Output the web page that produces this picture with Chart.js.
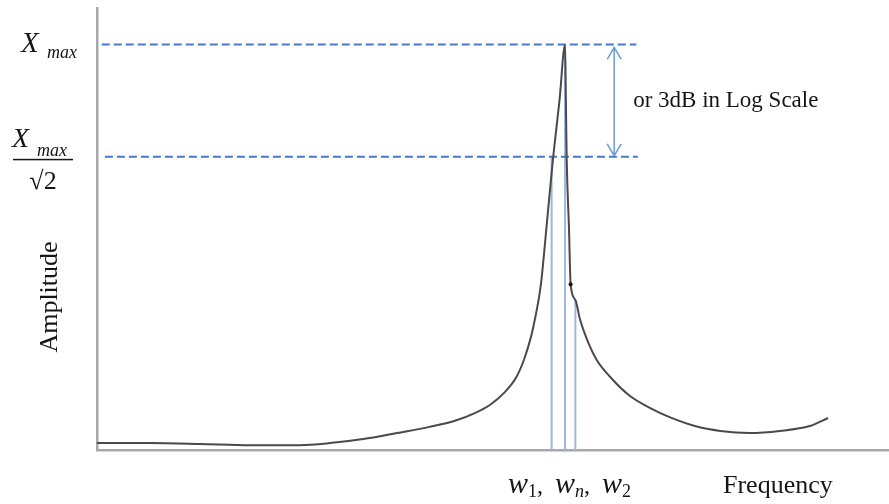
<!DOCTYPE html>
<html>
<head>
<meta charset="utf-8">
<script src="https://cdn.jsdelivr.net/npm/chart.js@4/dist/chart.umd.min.js"></script>
<style>
    html, body { margin: 0; padding: 0; background: #fff; }
    #wrap { width: 889px; height: 504px; }
</style>
</head>
<body>
<div id="wrap"><canvas id="respChart"></canvas></div>
<script>
// Frequency response (arbitrary units)
const frequency = [0, 6.7, 13.0, 19.3, 25.6, 29.4, 33.6, 37.9, 42.0, 45.2, 47.7, 49.6, 51.4, 52.9, 53.9, 54.8, 55.4, 55.8, 56.1, 56.9, 57.6, 58.4, 59.1, 59.2, 59.3, 59.6, 59.8, 60.4, 61.0, 61.9, 63.1, 64.8, 67.3, 69.8, 72.3, 75.5, 78.7, 82.4, 86.2, 90.0, 92.3];
const amplitude = [1.7, 1.7, 1.5, 1.2, 1.2, 1.7, 2.7, 4.2, 5.7, 7.2, 9.1, 11.1, 14.1, 17.8, 22.2, 27.9, 33.3, 37.5, 41.7, 58.0, 72.3, 86.3, 99.9, 86.3, 72.3, 54.3, 40.9, 37.0, 32.1, 27.1, 22.2, 18.0, 13.3, 10.4, 8.1, 5.9, 4.7, 4.2, 4.7, 5.9, 7.9];

const xMax = 100;        // peak amplitude
const halfPower = 72.3;  // X_max / sqrt(2) level as drawn
const refLineStart = [0.6, 1.0];   // where the two dashed lines start
const refLineEnd = [68.1, 68.3];   // and end

// w1, wn, w2 markers and how high each marker line reaches
const markerFreq = [57.4, 59.1, 60.4];
const markerTop = [72.3, 100, 37.0];
const arrowFreq = 65.3;

const markerBlue = '#9db7df';
const dashBlue = '#4a78c8';

function segment(x0, y0, x1, y1) {
    return [{ x: x0, y: y0 }, { x: x1, y: y1 }];
}

const curvePoints = frequency.map((f, i) => ({ x: f, y: amplitude[i] }));
const dotRadius = frequency.map((f, i) => (i === 26 ? 2 : 0));

const datasets = [
    {
        data: curvePoints,
        borderColor: '#4a4a4a',
        borderWidth: 2,
        cubicInterpolationMode: 'monotone',
        pointRadius: dotRadius,
        pointBackgroundColor: '#111',
        pointBorderWidth: 0
    },
    {
        data: segment(refLineStart[0], xMax, refLineEnd[0], xMax),
        borderColor: dashBlue,
        borderWidth: 2,
        borderDash: [8, 4],
        pointRadius: 0
    },
    {
        data: segment(refLineStart[1], halfPower, refLineEnd[1], halfPower),
        borderColor: dashBlue,
        borderWidth: 2,
        borderDash: [8, 4],
        pointRadius: 0
    }
];

markerFreq.forEach((f, i) => {
    datasets.push({
        data: segment(f, 0, f, markerTop[i]),
        borderColor: markerBlue,
        borderWidth: 2,
        pointRadius: 0
    });
});

// Text labels and the double arrow
const annotations = {
    id: 'annotations',
    afterDraw(chart) {
        const ctx = chart.ctx;
        const x = chart.scales.x;
        const y = chart.scales.y;
        const serif = '"Liberation Serif", "DejaVu Serif", serif';
        ctx.save();
        ctx.fillStyle = '#151515';
        ctx.textBaseline = 'alphabetic';
        ctx.textAlign = 'left';

        // X_max
        const yTop = y.getPixelForValue(xMax);
        ctx.font = 'italic 29px ' + serif;
        ctx.fillText('X', 21, yTop + 8);
        ctx.font = 'italic 18px ' + serif;
        ctx.fillText('max', 47, yTop + 14);

        // X_max / sqrt(2)
        const yHalf = y.getPixelForValue(halfPower);
        ctx.font = 'italic 28px ' + serif;
        ctx.fillText('X', 12, yHalf - 10);
        ctx.font = 'italic 18px ' + serif;
        ctx.fillText('max', 37, yHalf - 1);
        ctx.fillRect(13, yHalf + 2, 60, 1.5);
        ctx.font = '26px ' + serif;
        ctx.textAlign = 'center';
        ctx.fillText('\u221A2', 43, yHalf + 32);

        // Amplitude
        ctx.save();
        ctx.translate(50, 297);
        ctx.rotate(-Math.PI / 2);
        ctx.font = '26px ' + serif;
        ctx.textBaseline = 'middle';
        ctx.fillText('Amplitude', 0, 0);
        ctx.restore();

        // double arrow between the two levels
        const ax = x.getPixelForValue(arrowFreq);
        const a0 = yTop + 3;
        const a1 = yHalf - 1;
        ctx.strokeStyle = '#6b9bd6';
        ctx.lineWidth = 1.5;
        ctx.beginPath();
        ctx.moveTo(ax, a0);
        ctx.lineTo(ax, a1);
        ctx.moveTo(ax - 7, a0 + 12);
        ctx.lineTo(ax, a0);
        ctx.lineTo(ax + 7, a0 + 12);
        ctx.moveTo(ax - 7, a1 - 12);
        ctx.lineTo(ax, a1);
        ctx.lineTo(ax + 7, a1 - 12);
        ctx.stroke();

        ctx.textAlign = 'left';
        ctx.textBaseline = 'middle';
        ctx.font = '23px ' + serif;
        ctx.fillText('or 3dB in Log Scale', ax + 19, (a0 + a1) / 2 - 1);

        // w1, wn, w2
        ctx.textBaseline = 'alphabetic';
        const base = 493;
        let cx = 508;
        const parts = [
            ['w', 'italic 30px ', 0], ['1', '18px ', 4], [',  ', '24px ', 0],
            ['w', 'italic 30px ', 0], ['n', 'italic 18px ', 4], [',  ', '24px ', 0],
            ['w', 'italic 30px ', 0], ['2', '18px ', 4]
        ];
        parts.forEach(p => {
            ctx.font = p[1] + serif;
            ctx.fillText(p[0], cx, base + p[2]);
            cx += ctx.measureText(p[0]).width;
        });

        ctx.font = '26px ' + serif;
        ctx.fillText('Frequency', 723, base);
        ctx.restore();
    }
};

new Chart(document.getElementById('respChart'), {
    type: 'line',
    data: { datasets: datasets },
    options: {
        responsive: true,
        maintainAspectRatio: false,
        animation: false,
        events: [],
        layout: { padding: { left: 97, top: 8, right: 0, bottom: 54 } },
        plugins: {
            legend: { display: false },
            tooltip: { enabled: false }
        },
        scales: {
            x: {
                type: 'linear',
                min: 0,
                max: 100,
                ticks: { display: false },
                grid: { display: false, drawTicks: false },
                border: { display: true, color: '#a8a8a8', width: 2.5 }
            },
            y: {
                min: 0,
                max: 109,
                ticks: { display: false },
                grid: { display: false, drawTicks: false },
                border: { display: true, color: '#a8a8a8', width: 2.5 }
            }
        }
    },
    plugins: [annotations]
});
</script>
</body>
</html>
